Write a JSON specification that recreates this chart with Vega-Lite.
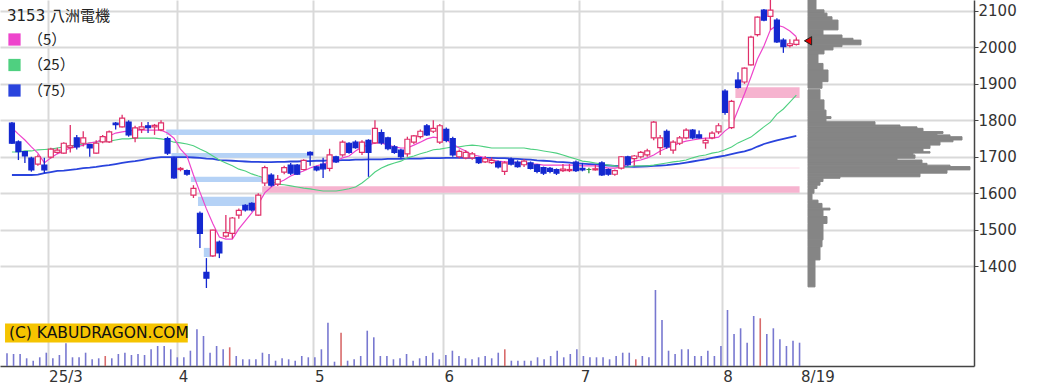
{
"$schema": "https://vega.github.io/schema/vega-lite/v6.json",
"width": 974, "height": 366,
"autosize": {"type": "none"},
"padding": {"left": 0, "top": 0, "right": 72, "bottom": 22},
"background": "white",
"config": {
  "view": {"stroke": null},
  "axis": {"domainColor": "#444", "domainWidth": 1.5, "gridColor": "#d9d9d9", "gridWidth": 2, "labelFont": "DejaVu Sans", "labelFontSize": 15, "labelColor": "#333", "tickColor": "#444"}
},
"datasets": {
"candles": [
{"i":0,"d":"2025-02-20","o":1792,"h":1795,"l":1735,"c":1737,"v":1270,"vr":0,"m5":1779,"m25":1713,"m75":1650},
{"i":1,"d":"2025-02-21","o":1741,"h":1745,"l":1691,"c":1714,"v":1200,"vr":0,"m5":1762,"m25":1713,"m75":1650},
{"i":2,"d":"2025-02-25","o":1714,"h":1716,"l":1683,"c":1702,"v":1200,"vr":0,"m5":1746,"m25":1716,"m75":1650},
{"i":3,"d":"2025-02-26","o":1696,"h":1700,"l":1659,"c":1664,"v":770,"vr":0,"m5":1727,"m25":1716,"m75":1650},
{"i":4,"d":"2025-02-27","o":1680,"h":1706,"l":1675,"c":1700,"v":530,"vr":0,"m5":1710,"m25":1719,"m75":1651},
{"i":5,"d":"2025-02-28","o":1677,"h":1697,"l":1655,"c":1664,"v":870,"vr":0,"m5":1683,"m25":1720,"m75":1655},
{"i":6,"d":"2025-03-03","o":1699,"h":1725,"l":1695,"c":1721,"v":1330,"vr":0,"m5":1697,"m25":1721,"m75":1658},
{"i":7,"d":"2025-03-04","o":1712,"h":1725,"l":1708,"c":1718,"v":770,"vr":0,"m5":1708,"m25":1724,"m75":1661},
{"i":8,"d":"2025-03-05","o":1710,"h":1740,"l":1708,"c":1737,"v":1100,"vr":0,"m5":1716,"m25":1727,"m75":1662},
{"i":9,"d":"2025-03-06","o":1725,"h":1787,"l":1712,"c":1730,"v":2270,"vr":0,"m5":1724,"m25":1730,"m75":1664},
{"i":10,"d":"2025-03-07","o":1752,"h":1760,"l":1720,"c":1727,"v":870,"vr":0,"m5":1727,"m25":1732,"m75":1666},
{"i":11,"d":"2025-03-10","o":1737,"h":1770,"l":1728,"c":1752,"v":870,"vr":0,"m5":1732,"m25":1735,"m75":1669},
{"i":12,"d":"2025-03-11","o":1733,"h":1735,"l":1700,"c":1724,"v":1330,"vr":0,"m5":1738,"m25":1738,"m75":1670},
{"i":13,"d":"2025-03-12","o":1710,"h":1745,"l":1708,"c":1737,"v":670,"vr":0,"m5":1740,"m25":1740,"m75":1672},
{"i":14,"d":"2025-03-13","o":1741,"h":1760,"l":1737,"c":1755,"v":770,"vr":0,"m5":1749,"m25":1743,"m75":1675},
{"i":15,"d":"2025-03-14","o":1741,"h":1772,"l":1738,"c":1768,"v":1000,"vr":1,"m5":1757,"m25":1743,"m75":1677},
{"i":16,"d":"2025-03-17","o":1792,"h":1795,"l":1775,"c":1788,"v":770,"vr":0,"m5":1765,"m25":1746,"m75":1680},
{"i":17,"d":"2025-03-18","o":1782,"h":1815,"l":1780,"c":1806,"v":1200,"vr":0,"m5":1768,"m25":1749,"m75":1683},
{"i":18,"d":"2025-03-19","o":1795,"h":1800,"l":1755,"c":1760,"v":1330,"vr":0,"m5":1771,"m25":1749,"m75":1686},
{"i":19,"d":"2025-03-21","o":1752,"h":1785,"l":1740,"c":1779,"v":1100,"vr":0,"m5":1773,"m25":1751,"m75":1688},
{"i":20,"d":"2025-03-24","o":1775,"h":1795,"l":1765,"c":1782,"v":1200,"vr":0,"m5":1773,"m25":1751,"m75":1691},
{"i":21,"d":"2025-03-25","o":1785,"h":1795,"l":1765,"c":1780,"v":1100,"vr":0,"m5":1773,"m25":1751,"m75":1694},
{"i":22,"d":"2025-03-26","o":1782,"h":1790,"l":1760,"c":1786,"v":1670,"vr":0,"m5":1773,"m25":1751,"m75":1697},
{"i":23,"d":"2025-03-27","o":1774,"h":1800,"l":1770,"c":1793,"v":2000,"vr":0,"m5":1773,"m25":1749,"m75":1699},
{"i":24,"d":"2025-03-28","o":1750,"h":1755,"l":1705,"c":1710,"v":2000,"vr":0,"m5":1765,"m25":1746,"m75":1699},
{"i":25,"d":"2025-03-31","o":1696,"h":1700,"l":1640,"c":1642,"v":1670,"vr":0,"m5":1751,"m25":1740,"m75":1699},
{"i":26,"d":"2025-04-01","o":1665,"h":1672,"l":1660,"c":1668,"v":870,"vr":0,"m5":1721,"m25":1738,"m75":1699},
{"i":27,"d":"2025-04-02","o":1662,"h":1665,"l":1648,"c":1652,"v":870,"vr":0,"m5":1702,"m25":1735,"m75":1699},
{"i":28,"d":"2025-04-03","o":1595,"h":1622,"l":1587,"c":1613,"v":1530,"vr":0,"m5":1650,"m25":1730,"m75":1698},
{"i":29,"d":"2025-04-04","o":1545,"h":1550,"l":1450,"c":1490,"v":3670,"vr":0,"m5":1603,"m25":1721,"m75":1697},
{"i":30,"d":"2025-04-07","o":1383,"h":1422,"l":1340,"c":1367,"v":3000,"vr":0,"m5":1557,"m25":1713,"m75":1695},
{"i":31,"d":"2025-04-08","o":1428,"h":1500,"l":1425,"c":1499,"v":1330,"vr":0,"m5":1516,"m25":1702,"m75":1694},
{"i":32,"d":"2025-04-09","o":1466,"h":1470,"l":1422,"c":1436,"v":2000,"vr":0,"m5":1480,"m25":1691,"m75":1691},
{"i":33,"d":"2025-04-10","o":1482,"h":1540,"l":1478,"c":1492,"v":1670,"vr":0,"m5":1474,"m25":1683,"m75":1690},
{"i":34,"d":"2025-04-11","o":1490,"h":1535,"l":1475,"c":1532,"v":1870,"vr":1,"m5":1474,"m25":1675,"m75":1689},
{"i":35,"d":"2025-04-14","o":1540,"h":1558,"l":1530,"c":1553,"v":1000,"vr":0,"m5":1502,"m25":1666,"m75":1688},
{"i":36,"d":"2025-04-15","o":1567,"h":1570,"l":1550,"c":1554,"v":670,"vr":0,"m5":1524,"m25":1661,"m75":1687},
{"i":37,"d":"2025-04-16","o":1572,"h":1575,"l":1550,"c":1554,"v":670,"vr":0,"m5":1546,"m25":1653,"m75":1686},
{"i":38,"d":"2025-04-17","o":1540,"h":1600,"l":1538,"c":1595,"v":670,"vr":0,"m5":1570,"m25":1647,"m75":1686},
{"i":39,"d":"2025-04-18","o":1628,"h":1675,"l":1620,"c":1670,"v":1330,"vr":0,"m5":1601,"m25":1642,"m75":1685},
{"i":40,"d":"2025-04-21","o":1650,"h":1655,"l":1618,"c":1622,"v":1200,"vr":0,"m5":1617,"m25":1633,"m75":1685},
{"i":41,"d":"2025-04-22","o":1625,"h":1650,"l":1620,"c":1638,"v":530,"vr":0,"m5":1628,"m25":1625,"m75":1686},
{"i":42,"d":"2025-04-23","o":1658,"h":1675,"l":1652,"c":1670,"v":770,"vr":0,"m5":1636,"m25":1623,"m75":1686},
{"i":43,"d":"2025-04-24","o":1677,"h":1683,"l":1650,"c":1655,"v":670,"vr":0,"m5":1647,"m25":1620,"m75":1687},
{"i":44,"d":"2025-04-25","o":1677,"h":1680,"l":1650,"c":1652,"v":530,"vr":0,"m5":1655,"m25":1617,"m75":1687},
{"i":45,"d":"2025-04-28","o":1665,"h":1693,"l":1662,"c":1690,"v":1000,"vr":0,"m5":1661,"m25":1614,"m75":1688},
{"i":46,"d":"2025-04-30","o":1712,"h":1715,"l":1675,"c":1705,"v":870,"vr":0,"m5":1669,"m25":1612,"m75":1688},
{"i":47,"d":"2025-05-01","o":1672,"h":1675,"l":1660,"c":1664,"v":870,"vr":0,"m5":1675,"m25":1609,"m75":1689},
{"i":48,"d":"2025-05-02","o":1680,"h":1697,"l":1642,"c":1667,"v":1670,"vr":0,"m5":1680,"m25":1606,"m75":1689},
{"i":49,"d":"2025-05-07","o":1668,"h":1722,"l":1660,"c":1705,"v":4330,"vr":0,"m5":1686,"m25":1606,"m75":1690},
{"i":50,"d":"2025-05-08","o":1700,"h":1703,"l":1683,"c":1686,"v":430,"vr":0,"m5":1688,"m25":1606,"m75":1690},
{"i":51,"d":"2025-05-09","o":1705,"h":1745,"l":1700,"c":1740,"v":3330,"vr":1,"m5":1697,"m25":1609,"m75":1691},
{"i":52,"d":"2025-05-12","o":1737,"h":1740,"l":1708,"c":1712,"v":530,"vr":0,"m5":1702,"m25":1612,"m75":1691},
{"i":53,"d":"2025-05-13","o":1740,"h":1745,"l":1722,"c":1725,"v":670,"vr":0,"m5":1716,"m25":1617,"m75":1692},
{"i":54,"d":"2025-05-14","o":1712,"h":1745,"l":1705,"c":1740,"v":1000,"vr":0,"m5":1727,"m25":1628,"m75":1692},
{"i":55,"d":"2025-05-15","o":1745,"h":1748,"l":1645,"c":1712,"v":3530,"vr":0,"m5":1732,"m25":1642,"m75":1693},
{"i":56,"d":"2025-05-16","o":1738,"h":1800,"l":1735,"c":1778,"v":2870,"vr":0,"m5":1738,"m25":1658,"m75":1693},
{"i":57,"d":"2025-05-19","o":1766,"h":1775,"l":1733,"c":1738,"v":1000,"vr":0,"m5":1738,"m25":1669,"m75":1693},
{"i":58,"d":"2025-05-20","o":1752,"h":1755,"l":1718,"c":1722,"v":1000,"vr":0,"m5":1732,"m25":1677,"m75":1694},
{"i":59,"d":"2025-05-21","o":1727,"h":1732,"l":1708,"c":1712,"v":670,"vr":0,"m5":1727,"m25":1683,"m75":1694},
{"i":60,"d":"2025-05-22","o":1718,"h":1722,"l":1695,"c":1700,"v":770,"vr":0,"m5":1724,"m25":1688,"m75":1694},
{"i":61,"d":"2025-05-23","o":1708,"h":1755,"l":1700,"c":1748,"v":1200,"vr":0,"m5":1724,"m25":1697,"m75":1695},
{"i":62,"d":"2025-05-26","o":1740,"h":1760,"l":1735,"c":1757,"v":530,"vr":0,"m5":1732,"m25":1702,"m75":1695},
{"i":63,"d":"2025-05-27","o":1755,"h":1775,"l":1750,"c":1770,"v":770,"vr":0,"m5":1740,"m25":1708,"m75":1695},
{"i":64,"d":"2025-05-28","o":1785,"h":1790,"l":1757,"c":1760,"v":1000,"vr":0,"m5":1749,"m25":1713,"m75":1696},
{"i":65,"d":"2025-05-29","o":1770,"h":1800,"l":1765,"c":1778,"v":1330,"vr":0,"m5":1754,"m25":1719,"m75":1696},
{"i":66,"d":"2025-05-30","o":1740,"h":1790,"l":1735,"c":1785,"v":670,"vr":0,"m5":1751,"m25":1721,"m75":1696},
{"i":67,"d":"2025-06-02","o":1775,"h":1780,"l":1740,"c":1745,"v":1100,"vr":0,"m5":1746,"m25":1724,"m75":1697},
{"i":68,"d":"2025-06-03","o":1750,"h":1755,"l":1700,"c":1705,"v":1530,"vr":0,"m5":1735,"m25":1727,"m75":1697},
{"i":69,"d":"2025-06-04","o":1700,"h":1720,"l":1695,"c":1715,"v":1000,"vr":0,"m5":1724,"m25":1727,"m75":1697},
{"i":70,"d":"2025-06-05","o":1697,"h":1718,"l":1693,"c":1712,"v":770,"vr":0,"m5":1716,"m25":1730,"m75":1697},
{"i":71,"d":"2025-06-06","o":1697,"h":1713,"l":1692,"c":1708,"v":670,"vr":0,"m5":1705,"m25":1732,"m75":1697},
{"i":72,"d":"2025-06-09","o":1698,"h":1700,"l":1680,"c":1684,"v":870,"vr":0,"m5":1702,"m25":1730,"m75":1697},
{"i":73,"d":"2025-06-10","o":1686,"h":1702,"l":1683,"c":1695,"v":1000,"vr":0,"m5":1697,"m25":1727,"m75":1697},
{"i":74,"d":"2025-06-11","o":1684,"h":1698,"l":1680,"c":1690,"v":770,"vr":0,"m5":1691,"m25":1724,"m75":1697},
{"i":75,"d":"2025-06-12","o":1686,"h":1690,"l":1668,"c":1672,"v":1330,"vr":0,"m5":1688,"m25":1724,"m75":1696},
{"i":76,"d":"2025-06-13","o":1660,"h":1688,"l":1650,"c":1683,"v":1670,"vr":1,"m5":1686,"m25":1724,"m75":1696},
{"i":77,"d":"2025-06-16","o":1692,"h":1698,"l":1676,"c":1680,"v":530,"vr":0,"m5":1686,"m25":1724,"m75":1695},
{"i":78,"d":"2025-06-17","o":1685,"h":1690,"l":1670,"c":1673,"v":530,"vr":0,"m5":1683,"m25":1724,"m75":1694},
{"i":79,"d":"2025-06-18","o":1678,"h":1693,"l":1672,"c":1688,"v":530,"vr":0,"m5":1683,"m25":1724,"m75":1693},
{"i":80,"d":"2025-06-19","o":1683,"h":1687,"l":1665,"c":1668,"v":530,"vr":0,"m5":1680,"m25":1721,"m75":1692},
{"i":81,"d":"2025-06-20","o":1678,"h":1680,"l":1655,"c":1660,"v":870,"vr":0,"m5":1680,"m25":1719,"m75":1690},
{"i":82,"d":"2025-06-23","o":1670,"h":1673,"l":1650,"c":1655,"v":670,"vr":0,"m5":1677,"m25":1716,"m75":1689},
{"i":83,"d":"2025-06-24","o":1668,"h":1672,"l":1655,"c":1660,"v":1000,"vr":0,"m5":1677,"m25":1713,"m75":1688},
{"i":84,"d":"2025-06-25","o":1665,"h":1668,"l":1650,"c":1655,"v":1530,"vr":0,"m5":1677,"m25":1710,"m75":1686},
{"i":85,"d":"2025-06-26","o":1662,"h":1680,"l":1658,"c":1666,"v":870,"vr":0,"m5":1677,"m25":1705,"m75":1685},
{"i":86,"d":"2025-06-27","o":1662,"h":1680,"l":1658,"c":1665,"v":1200,"vr":0,"m5":1677,"m25":1699,"m75":1684},
{"i":87,"d":"2025-06-30","o":1685,"h":1690,"l":1658,"c":1662,"v":1670,"vr":0,"m5":1677,"m25":1694,"m75":1682},
{"i":88,"d":"2025-07-01","o":1668,"h":1683,"l":1660,"c":1664,"v":1000,"vr":0,"m5":1675,"m25":1688,"m75":1681},
{"i":89,"d":"2025-07-02","o":1665,"h":1670,"l":1655,"c":1665,"v":870,"vr":0,"m5":1675,"m25":1686,"m75":1680},
{"i":90,"d":"2025-07-03","o":1664,"h":1678,"l":1662,"c":1667,"v":870,"vr":0,"m5":1675,"m25":1683,"m75":1679},
{"i":91,"d":"2025-07-04","o":1683,"h":1688,"l":1647,"c":1650,"v":870,"vr":0,"m5":1672,"m25":1680,"m75":1677},
{"i":92,"d":"2025-07-07","o":1665,"h":1668,"l":1648,"c":1652,"v":670,"vr":0,"m5":1669,"m25":1677,"m75":1676},
{"i":93,"d":"2025-07-08","o":1652,"h":1665,"l":1648,"c":1662,"v":1000,"vr":0,"m5":1669,"m25":1675,"m75":1675},
{"i":94,"d":"2025-07-09","o":1669,"h":1702,"l":1665,"c":1700,"v":1330,"vr":0,"m5":1672,"m25":1672,"m75":1674},
{"i":95,"d":"2025-07-10","o":1700,"h":1703,"l":1675,"c":1678,"v":1330,"vr":0,"m5":1680,"m25":1672,"m75":1673},
{"i":96,"d":"2025-07-11","o":1695,"h":1705,"l":1675,"c":1702,"v":670,"vr":1,"m5":1688,"m25":1675,"m75":1672},
{"i":97,"d":"2025-07-14","o":1700,"h":1716,"l":1695,"c":1712,"v":1000,"vr":0,"m5":1691,"m25":1675,"m75":1673},
{"i":98,"d":"2025-07-15","o":1705,"h":1722,"l":1700,"c":1716,"v":870,"vr":0,"m5":1697,"m25":1675,"m75":1674},
{"i":99,"d":"2025-07-16","o":1752,"h":1798,"l":1745,"c":1795,"v":7600,"vr":0,"m5":1705,"m25":1677,"m75":1675},
{"i":100,"d":"2025-07-17","o":1725,"h":1760,"l":1705,"c":1752,"v":4600,"vr":0,"m5":1716,"m25":1680,"m75":1676},
{"i":101,"d":"2025-07-18","o":1770,"h":1775,"l":1722,"c":1727,"v":1530,"vr":0,"m5":1724,"m25":1683,"m75":1677},
{"i":102,"d":"2025-07-22","o":1718,"h":1745,"l":1708,"c":1740,"v":1200,"vr":0,"m5":1730,"m25":1686,"m75":1679},
{"i":103,"d":"2025-07-23","o":1737,"h":1757,"l":1732,"c":1752,"v":1670,"vr":0,"m5":1738,"m25":1688,"m75":1681},
{"i":104,"d":"2025-07-24","o":1752,"h":1778,"l":1748,"c":1773,"v":1670,"vr":0,"m5":1743,"m25":1691,"m75":1684},
{"i":105,"d":"2025-07-25","o":1773,"h":1776,"l":1748,"c":1752,"v":1000,"vr":0,"m5":1746,"m25":1697,"m75":1687},
{"i":106,"d":"2025-07-28","o":1760,"h":1772,"l":1750,"c":1752,"v":1000,"vr":0,"m5":1749,"m25":1702,"m75":1690},
{"i":107,"d":"2025-07-29","o":1738,"h":1752,"l":1722,"c":1745,"v":1530,"vr":0,"m5":1751,"m25":1705,"m75":1693},
{"i":108,"d":"2025-07-30","o":1752,"h":1770,"l":1748,"c":1765,"v":1000,"vr":0,"m5":1751,"m25":1710,"m75":1697},
{"i":109,"d":"2025-07-31","o":1768,"h":1792,"l":1762,"c":1785,"v":2000,"vr":0,"m5":1754,"m25":1713,"m75":1700},
{"i":110,"d":"2025-08-01","o":1880,"h":1885,"l":1815,"c":1822,"v":5600,"vr":0,"m5":1771,"m25":1719,"m75":1703},
{"i":111,"d":"2025-08-04","o":1780,"h":1856,"l":1776,"c":1852,"v":3200,"vr":0,"m5":1784,"m25":1727,"m75":1707},
{"i":112,"d":"2025-08-05","o":1910,"h":1932,"l":1887,"c":1890,"v":3770,"vr":0,"m5":1828,"m25":1738,"m75":1711},
{"i":113,"d":"2025-08-06","o":1905,"h":1945,"l":1900,"c":1943,"v":2330,"vr":0,"m5":1872,"m25":1746,"m75":1715},
{"i":114,"d":"2025-08-07","o":1952,"h":2032,"l":1950,"c":2028,"v":5000,"vr":0,"m5":1919,"m25":1754,"m75":1720},
{"i":115,"d":"2025-08-08","o":2035,"h":2085,"l":2030,"c":2083,"v":4770,"vr":1,"m5":1968,"m25":1768,"m75":1728},
{"i":116,"d":"2025-08-12","o":2102,"h":2105,"l":2072,"c":2075,"v":3200,"vr":0,"m5":2004,"m25":1782,"m75":1735},
{"i":117,"d":"2025-08-13","o":2085,"h":2130,"l":2048,"c":2102,"v":3770,"vr":0,"m5":2048,"m25":1795,"m75":1740},
{"i":118,"d":"2025-08-14","o":2075,"h":2080,"l":2012,"c":2015,"v":2670,"vr":0,"m5":2061,"m25":1817,"m75":1745},
{"i":119,"d":"2025-08-15","o":2020,"h":2025,"l":1985,"c":2002,"v":2000,"vr":0,"m5":2056,"m25":1831,"m75":1749},
{"i":120,"d":"2025-08-18","o":2005,"h":2022,"l":2000,"c":2010,"v":2530,"vr":0,"m5":2045,"m25":1850,"m75":1753},
{"i":121,"d":"2025-08-19","o":2008,"h":2028,"l":2005,"c":2020,"v":2330,"vr":0,"m5":2029,"m25":1869,"m75":1757}
],
"bands": [
{"a":23.8,"b":55.4,"p1":1760,"p2":1775,"t":"hi"},
{"a":24.6,"b":45.8,"p1":1697,"p2":1710,"t":"hi"},
{"a":27.6,"b":38.6,"p1":1631,"p2":1645,"t":"hi"},
{"a":28.7,"b":37.4,"p1":1565,"p2":1590,"t":"hi"},
{"a":29.6,"b":31.0,"p1":1425,"p2":1450,"t":"hi"},
{"a":38.6,"b":121.5,"p1":1601,"p2":1619,"t":"lo"},
{"a":89.0,"b":121.5,"p1":1668.5,"p2":1670,"t":"lo"},
{"a":111.6,"b":121.5,"p1":1861,"p2":1891,"t":"lo"}
],
"profile": [
{"p1":2103,"p2":2130,"w":8},{"p1":2094,"p2":2103,"w":16},{"p1":2084,"p2":2094,"w":19},{"p1":2075,"p2":2084,"w":24},
{"p1":2048,"p2":2075,"w":30},{"p1":2034,"p2":2048,"w":15},{"p1":2025,"p2":2034,"w":34},{"p1":2020,"p2":2025,"w":45},
{"p1":2007,"p2":2020,"w":53},{"p1":2002,"p2":2007,"w":34},{"p1":1993,"p2":2002,"w":25},{"p1":1982,"p2":1993,"w":16},
{"p1":1956,"p2":1982,"w":10},{"p1":1938,"p2":1956,"w":15},{"p1":1906,"p2":1938,"w":20},{"p1":1888,"p2":1906,"w":14},
{"p1":1856,"p2":1884,"w":12},{"p1":1828,"p2":1856,"w":16},{"p1":1810,"p2":1828,"w":18},{"p1":1805,"p2":1810,"w":23},
{"p1":1796,"p2":1805,"w":18},{"p1":1787,"p2":1796,"w":67},{"p1":1782,"p2":1787,"w":92},{"p1":1778,"p2":1782,"w":109},
{"p1":1769,"p2":1778,"w":115},{"p1":1764,"p2":1769,"w":135},{"p1":1760,"p2":1764,"w":129},{"p1":1755,"p2":1760,"w":142},
{"p1":1746,"p2":1755,"w":154},{"p1":1741,"p2":1746,"w":145},{"p1":1732,"p2":1741,"w":132},{"p1":1723,"p2":1732,"w":122},
{"p1":1714,"p2":1723,"w":115},{"p1":1710,"p2":1714,"w":122},{"p1":1705,"p2":1710,"w":105},{"p1":1696,"p2":1705,"w":107},
{"p1":1691,"p2":1696,"w":89},{"p1":1682,"p2":1691,"w":114},{"p1":1677,"p2":1682,"w":119},{"p1":1673,"p2":1677,"w":142},
{"p1":1664,"p2":1673,"w":162},{"p1":1655,"p2":1664,"w":139},{"p1":1645,"p2":1655,"w":112},{"p1":1641,"p2":1645,"w":32},
{"p1":1632,"p2":1641,"w":15},{"p1":1622,"p2":1632,"w":12},{"p1":1613,"p2":1622,"w":9},{"p1":1600,"p2":1613,"w":6},
{"p1":1581,"p2":1600,"w":4},{"p1":1572,"p2":1581,"w":10},{"p1":1559,"p2":1572,"w":14},{"p1":1554,"p2":1559,"w":22},
{"p1":1536,"p2":1554,"w":15},{"p1":1517,"p2":1536,"w":19},{"p1":1472,"p2":1517,"w":15},{"p1":1453,"p2":1472,"w":14},
{"p1":1417,"p2":1453,"w":12},{"p1":1343,"p2":1417,"w":7}
]
},
"layer": [
{
 "layer": [
  {"data": {"name": "bands"}, "mark": {"type": "rect"},
   "encoding": {
    "x": {"field": "a", "type": "quantitative", "scale": {"domain": [-1.0687, 147.634], "nice": false, "zero": false},
      "axis": {"title": null, "orient": "bottom", "values": [5.5, 25.5, 46.5, 66.5, 87.5, 109.5, 121.5],
        "labelExpr": "datum.value < 6 ? '25/3' : datum.value < 26 ? '4' : datum.value < 47 ? '5' : datum.value < 67 ? '6' : datum.value < 88 ? '7' : datum.value < 110 ? '8' : '8/19'",
        "ticks": false, "grid": true, "gridOpacity": {"condition": {"test": "datum.value > 120", "value": 0}, "value": 1},
        "labelAlign": "left", "labelOffset": 1, "labelPadding": 3, "labelFlush": false, "labelOverlap": false, "labelBaseline": "top"}},
    "x2": {"field": "b"},
    "y": {"field": "p1", "type": "quantitative", "scale": {"domain": [1126, 2130], "nice": false, "zero": false},
      "axis": {"title": null, "orient": "right", "values": [1400, 1500, 1600, 1700, 1800, 1900, 2000, 2100], "format": "d", "grid": true, "ticks": true, "tickSize": 4, "labelPadding": 0, "labelBaseline": "middle"}},
    "y2": {"field": "p2"},
    "fill": {"condition": {"test": "datum.t == 'hi'", "value": "#b5d2f6"}, "value": "#f6b3cf"}
   }},
  {"data": {"name": "candles"}, "mark": {"type": "line", "strokeWidth": 1.8},
   "encoding": {
    "x": {"field": "i", "type": "quantitative", "scale": {"domain": [-1.0687, 147.634], "nice": false, "zero": false}, "axis": {"title": null}},
    "y": {"field": "m75", "type": "quantitative", "scale": {"domain": [1126, 2130], "nice": false, "zero": false}, "axis": {"title": null, "format": "d"}},
    "color": {"datum": "（75）", "type": "nominal"}
   }},
  {"data": {"name": "candles"}, "mark": {"type": "line", "strokeWidth": 1.1},
   "encoding": {
    "x": {"field": "i", "type": "quantitative", "scale": {"domain": [-1.0687, 147.634], "nice": false, "zero": false}, "axis": {"title": null}},
    "y": {"field": "m25", "type": "quantitative", "scale": {"domain": [1126, 2130], "nice": false, "zero": false}, "axis": {"title": null, "format": "d"}},
    "color": {"datum": "（25）", "type": "nominal"}
   }},
  {"data": {"name": "candles"}, "mark": {"type": "line", "strokeWidth": 1.2},
   "encoding": {
    "x": {"field": "i", "type": "quantitative", "scale": {"domain": [-1.0687, 147.634], "nice": false, "zero": false}, "axis": {"title": null}},
    "y": {"field": "m5", "type": "quantitative", "scale": {"domain": [1126, 2130], "nice": false, "zero": false}, "axis": {"title": null, "format": "d"}},
    "color": {"datum": "（5）", "type": "nominal",
      "scale": {"domain": ["（5）", "（25）", "（75）"], "range": ["#ee44cc", "#4fd080", "#2a44dd"]},
      "legend": {"orient": "none", "legendX": 7, "legendY": 9, "title": "3153 八洲電機",
        "titleFont": "DejaVu Sans, Noto Sans CJK JP", "titleFontSize": 15, "titleFontWeight": "normal", "titleColor": "#222", "titlePadding": 8,
        "labelFont": "Noto Sans CJK JP", "labelFontSize": 15, "labelColor": "#222", "labelOffset": 6,
        "symbolType": "square", "symbolSize": 150, "symbolStrokeWidth": 0, "rowPadding": 9.5,
        "encode": {"symbols": {"update": {"fill": {"scale": "color", "field": "value"}, "fillOpacity": {"value": 1}, "strokeWidth": {"value": 0}}}}}}
   }},
  {"data": {"name": "candles"}, "mark": {"type": "rule", "strokeWidth": 1.3},
   "encoding": {
    "x": {"field": "i", "type": "quantitative", "scale": {"domain": [-1.0687, 147.634], "nice": false, "zero": false}, "axis": {"title": null}},
    "y": {"field": "l", "type": "quantitative", "scale": {"domain": [1126, 2130], "nice": false, "zero": false}, "axis": {"title": null, "format": "d"}},
    "y2": {"field": "h"},
    "stroke": {"condition": [{"test": "datum.c > datum.o", "value": "#e0306a"}, {"test": "datum.c == datum.o", "value": "#2a9a40"}], "value": "#1428d0"}
   }},
  {"data": {"name": "candles"}, "mark": {"type": "bar", "size": 5, "strokeWidth": 1.2, "orient": "vertical"},
   "encoding": {
    "x": {"field": "i", "type": "quantitative", "scale": {"domain": [-1.0687, 147.634], "nice": false, "zero": false}, "axis": {"title": null}},
    "y": {"field": "o", "type": "quantitative", "scale": {"domain": [1126, 2130], "nice": false, "zero": false}, "axis": {"title": null, "format": "d"}},
    "y2": {"field": "c"},
    "fill": {"condition": [{"test": "datum.c > datum.o", "value": "#ffffff"}, {"test": "datum.c == datum.o", "value": "#2a9a40"}], "value": "#1428d0"},
    "stroke": {"condition": [{"test": "datum.c > datum.o", "value": "#e0306a"}, {"test": "datum.c == datum.o", "value": "#2a9a40"}], "value": "#1428d0"}
   }}
 ]
},
{
 "layer": [
  {"data": {"name": "candles"}, "mark": {"type": "rule", "strokeWidth": 1.6},
   "encoding": {
    "x": {"field": "i", "type": "quantitative", "scale": {"domain": [-1.0687, 147.634], "nice": false, "zero": false}, "axis": null},
    "y": {"field": "v", "type": "quantitative", "scale": {"domain": [0, 36600], "nice": false, "zero": true}, "axis": null},
    "y2": {"datum": 0},
    "stroke": {"condition": {"test": "datum.vr == 1", "value": "#d86b6b"}, "value": "#7878d0"}
   }},
  {"data": {"values": [{"label": "(C) KABUDRAGON.COM"}]}, "mark": {"type": "rect", "fill": "#f5c400"},
   "encoding": {
    "x": {"datum": -0.3, "type": "quantitative"}, "x2": {"datum": 27.6},
    "y": {"datum": 4250, "type": "quantitative"}, "y2": {"datum": 2350}
   }},
  {"data": {"values": [{"label": "(C) KABUDRAGON.COM"}]}, "mark": {"type": "text", "align": "left", "baseline": "middle", "font": "DejaVu Sans", "fontSize": 15.5, "color": "#111"},
   "encoding": {
    "x": {"datum": 0.3, "type": "quantitative"},
    "y": {"datum": 3300, "type": "quantitative"},
    "text": {"field": "label"}
   }}
 ]
},
{
 "layer": [
  {"data": {"name": "profile"}, "mark": {"type": "bar", "fill": "#858585", "stroke": "#858585", "strokeWidth": 1},
   "encoding": {
    "x": {"field": "w", "type": "quantitative", "scale": {"domain": [-808, 166], "nice": false, "zero": false}, "axis": null},
    "x2": {"datum": 0},
    "y": {"field": "p1", "type": "quantitative", "scale": {"domain": [1126, 2130], "nice": false, "zero": false}, "axis": null},
    "y2": {"field": "p2"}
   }},
  {"data": {"values": [{"p": 2018}]}, "mark": {"type": "point", "shape": "triangle-left", "filled": true, "fill": "#e00000", "stroke": "#222", "strokeWidth": 1, "size": 70, "opacity": 1},
   "encoding": {
    "x": {"datum": 0, "type": "quantitative"},
    "y": {"field": "p", "type": "quantitative"}
   }}
 ]
}
],
"resolve": {"scale": {"x": "independent", "y": "independent"}}
}
